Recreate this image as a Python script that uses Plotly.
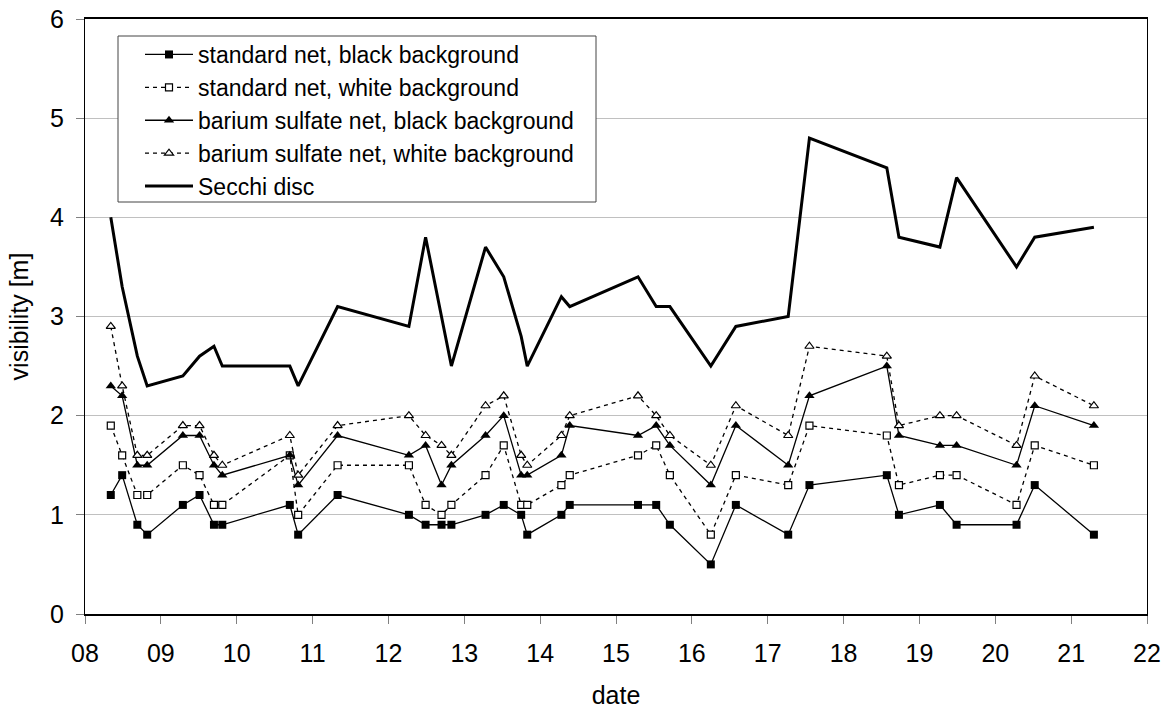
import plotly.graph_objects as go

dates = [8.34, 8.49, 8.69, 8.82, 9.29, 9.51, 9.70, 9.81, 10.70, 10.81, 11.33,
         12.27, 12.49, 12.70, 12.83, 13.28, 13.52, 13.75, 13.83, 14.28, 14.39,
         15.29, 15.53, 15.71, 16.25, 16.58, 17.27, 17.55, 18.57, 18.73,
         19.27, 19.49, 20.28, 20.52, 21.30]

std_black = [1.2, 1.4, 0.9, 0.8, 1.1, 1.2, 0.9, 0.9, 1.1, 0.8, 1.2,
             1.0, 0.9, 0.9, 0.9, 1.0, 1.1, 1.0, 0.8, 1.0, 1.1,
             1.1, 1.1, 0.9, 0.5, 1.1, 0.8, 1.3, 1.4, 1.0,
             1.1, 0.9, 0.9, 1.3, 0.8]

std_white = [1.9, 1.6, 1.2, 1.2, 1.5, 1.4, 1.1, 1.1, 1.6, 1.0, 1.5,
             1.5, 1.1, 1.0, 1.1, 1.4, 1.7, 1.1, 1.1, 1.3, 1.4,
             1.6, 1.7, 1.4, 0.8, 1.4, 1.3, 1.9, 1.8, 1.3,
             1.4, 1.4, 1.1, 1.7, 1.5]

ba_black = [2.3, 2.2, 1.5, 1.5, 1.8, 1.8, 1.5, 1.4, 1.6, 1.3, 1.8,
            1.6, 1.7, 1.3, 1.5, 1.8, 2.0, 1.4, 1.4, 1.6, 1.9,
            1.8, 1.9, 1.7, 1.3, 1.9, 1.5, 2.2, 2.5, 1.8,
            1.7, 1.7, 1.5, 2.1, 1.9]

ba_white = [2.9, 2.3, 1.6, 1.6, 1.9, 1.9, 1.6, 1.5, 1.8, 1.4, 1.9,
            2.0, 1.8, 1.7, 1.6, 2.1, 2.2, 1.6, 1.5, 1.8, 2.0,
            2.2, 2.0, 1.8, 1.5, 2.1, 1.8, 2.7, 2.6, 1.9,
            2.0, 2.0, 1.7, 2.4, 2.1]

secchi = [4.0, 3.3, 2.6, 2.3, 2.4, 2.6, 2.7, 2.5, 2.5, 2.3, 3.1,
          2.9, 3.8, 3.0, 2.5, 3.7, 3.4, 2.8, 2.5, 3.2, 3.1,
          3.4, 3.1, 3.1, 2.5, 2.9, 3.0, 4.8, 4.5, 3.8,
          3.7, 4.4, 3.5, 3.8, 3.9]

tick_vals = list(range(8, 23))
tick_text = ["%02d" % v for v in tick_vals]

FONT = "Arial, Liberation Sans, sans-serif"
W, H = 1168, 709
ML, MR, MT, MB = 85, 21, 19, 95
PW, PH = W - ML - MR, H - MT - MB


def px_x(p):
    return (p - ML) / PW


def px_y(p):
    return (H - MB - p) / PH


fig = go.Figure()

fig.add_trace(go.Scatter(
    x=dates, y=std_black, name="standard net, black background",
    mode="lines+markers",
    line=dict(color="black", width=1.3),
    marker=dict(symbol="square", size=8, color="black")))

fig.add_trace(go.Scatter(
    x=dates, y=std_white, name="standard net, white background",
    mode="lines+markers",
    line=dict(color="black", width=1.3, dash="4px,4px"),
    marker=dict(symbol="square", size=7, color="white",
                line=dict(color="black", width=1.2))))

fig.add_trace(go.Scatter(
    x=dates, y=ba_black, name="barium sulfate net, black background",
    mode="lines+markers",
    line=dict(color="black", width=1.3),
    marker=dict(symbol="triangle-up", size=9, color="black")))

fig.add_trace(go.Scatter(
    x=dates, y=ba_white, name="barium sulfate net, white background",
    mode="lines+markers",
    line=dict(color="black", width=1.3, dash="4px,4px"),
    marker=dict(symbol="triangle-up", size=8, color="white",
                line=dict(color="black", width=1.2))))

fig.add_trace(go.Scatter(
    x=dates, y=secchi, name="Secchi disc",
    mode="lines",
    line=dict(color="black", width=3)))

# legend frame (drawn as a box behind the legend entries)
fig.add_shape(type="rect", xref="paper", yref="paper",
              x0=px_x(118), x1=px_x(596), y0=px_y(202), y1=px_y(36),
              line=dict(color="#444444", width=1), fillcolor="white",
              layer="above")

fig.update_layout(
    width=W, height=H,
    margin=dict(l=ML, r=MR, t=MT, b=MB, autoexpand=False),
    paper_bgcolor="white", plot_bgcolor="white",
    font=dict(family=FONT, size=24, color="black"),
    showlegend=True,
    legend=dict(
        x=px_x(140), y=px_y(33), xanchor="left", yanchor="top",
        bgcolor="rgba(0,0,0,0)", borderwidth=0,
        font=dict(family=FONT, size=23, color="black"),
        tracegroupgap=0, itemwidth=48,
    ),
)

fig.update_xaxes(
    range=[8, 22], tickmode="array", tickvals=tick_vals, ticktext=tick_text,
    showgrid=False, zeroline=False, automargin=False,
    showline=True, linecolor="black", linewidth=2, mirror=True,
    ticks="outside", ticklen=8, tickcolor="#808080", tickwidth=1,
    ticklabelstandoff=8,
    tickfont=dict(family=FONT, size=25, color="black"),
    title=dict(text="date", font=dict(family=FONT, size=25, color="black"), standoff=20),
)

fig.update_yaxes(
    range=[0, 6], tickmode="array", tickvals=[0, 1, 2, 3, 4, 5, 6],
    showgrid=True, gridcolor="#c0c0c0", gridwidth=1, zeroline=False, automargin=False,
    showline=True, linecolor="black", linewidth=1, mirror=True,
    ticks="outside", ticklen=8, tickcolor="#808080", tickwidth=1,
    ticklabelstandoff=7,
    tickfont=dict(family=FONT, size=25, color="black"),
    title=dict(text="visibility [m]", font=dict(family=FONT, size=25, color="black"), standoff=14),
)

fig.write_html("out.html", config={"displayModeBar": False},
               post_script="document.body.style.margin='0px';")
